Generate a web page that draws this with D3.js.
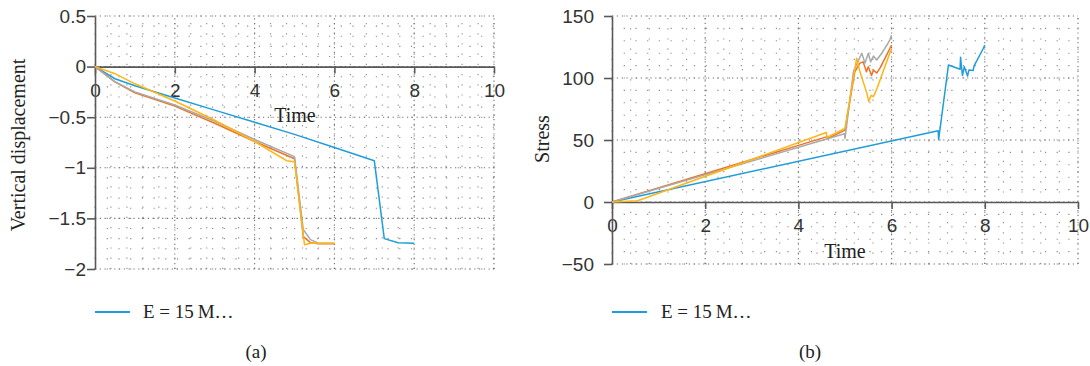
<!DOCTYPE html>
<html>
<head>
<meta charset="utf-8">
<script src="https://cdn.jsdelivr.net/npm/d3@7"></script>
<style>
  body { margin: 0; background: #fff; }
  svg { display: block; font-family: "Liberation Serif", "DejaVu Serif", serif; }
  .tick text { fill: #333; }
</style>
</head>
<body>
<div id="chart-container"></div>
<script>
// ---- data ----
var xTicks = [0, 2, 4, 6, 8, 10];
var yTicksA = [0.5, 0, -0.5, -1, -1.5, -2];
var yTicksB = [150, 100, 50, 0, -50];
var legendLabel = 'E = 15\u2009M\u2026';

// (a) vertical displacement
var blueA_t = [0, 0.5, 1, 2, 3, 4, 5, 6, 7, 7.25, 7.6, 8];
var blueA_v = [0, -0.12, -0.19, -0.31, -0.43, -0.55, -0.67, -0.8, -0.93, -1.7, -1.74, -1.745];
var orangeA_t = [0, 0.5, 1, 2, 3, 4, 5, 5.22, 5.4, 5.6, 6];
var orangeA_v = [0, -0.15, -0.26, -0.39, -0.56, -0.74, -0.91, -1.68, -1.74, -1.75, -1.75];
var grayA_t = [0, 0.5, 1, 2, 3, 4, 5, 5.22, 5.4, 5.6, 6];
var grayA_v = [0, -0.15, -0.25, -0.38, -0.54, -0.72, -0.89, -1.61, -1.71, -1.745, -1.745];
var goldA_t = [0, 0.5, 1, 2, 3, 4, 4.8, 5, 5.25, 5.4, 5.6, 6];
var goldA_v = [0, -0.07, -0.17, -0.34, -0.53, -0.74, -0.93, -0.94, -1.76, -1.745, -1.745, -1.745];

// (b) stress
var blueB_t = [0, 7, 7.01, 7.22, 7.47, 7.48, 7.52, 7.56, 7.63, 7.66, 7.75, 7.77, 7.97, 8];
var blueB_v = [0, 57.5, 50.5, 110.5, 107, 116.7, 102, 109, 101.6, 106.5, 106, 109.7, 124, 126.6];
var orangeB_t = [0, 4.6, 4.62, 5, 5.21, 5.32, 5.39, 5.46, 5.5, 5.57, 5.61, 5.68, 5.75, 5.86, 6];
var orangeB_v = [0, 52.5, 51, 58, 105, 112, 113, 105, 109, 102, 106.5, 104, 108, 116, 126.6];
var grayB_t = [0, 4.99, 5, 5.18, 5.36, 5.43, 5.5, 5.55, 5.61, 5.68, 5.79, 5.9, 5.96, 6];
var grayB_v = [0, 55, 51.3, 105, 120, 112, 120, 113, 117.7, 114.5, 120, 126.6, 130.6, 134.7];
var goldB_t = [0, 0.55, 4.6, 4.61, 5, 5.25, 5.31, 5.47, 5.51, 5.56, 5.61, 5.68, 5.97, 6];
var goldB_v = [0, 1, 56, 52, 59.4, 116, 106.5, 87.6, 81, 86, 85, 91, 121, 123];

var colors = { blue: '#1f9ddb', orange: '#ee7326', gray: '#a9a9a9', gold: '#fdb515' };

function translateString(x, y) {
  return 'translate(' + x + ', ' + y + ')';
}
function zip(t, v) {
  return t.map(function(d, i) { return [d, v[i]]; });
}

var svg = d3.select('#chart-container').append('svg')
  .attr('width', 1090)
  .attr('height', 366);

function drawPanel(cfg) {
  var x = d3.scaleLinear().domain([0, 10]).range([cfg.left, cfg.right]);
  var y = d3.scaleLinear().domain(cfg.yDomain).range([cfg.bottom, cfg.top]);
  var g = svg.append('g');

  // minor dotted grid
  var xMinor = d3.range(0, 10.001, 0.4);
  var yMinor = d3.range(cfg.yDomain[0], cfg.yDomain[1] + cfg.yMinor / 2, cfg.yMinor);
  g.selectAll('.hminor').data(yMinor).enter().append('line')
    .attr('x1', x(0)).attr('x2', x(10))
    .attr('y1', function(d) { return y(d); }).attr('y2', function(d) { return y(d); })
    .attr('stroke', '#8a8a8a').attr('stroke-width', 1.1)
    .attr('stroke-dasharray', '1.2,10.5');
  g.selectAll('.vminor').data(xMinor).enter().append('line')
    .attr('y1', y(cfg.yDomain[0])).attr('y2', y(cfg.yDomain[1]))
    .attr('x1', function(d) { return x(d); }).attr('x2', function(d) { return x(d); })
    .attr('stroke', '#8a8a8a').attr('stroke-width', 1.1)
    .attr('stroke-dasharray', '1.2,9');
  // major dotted grid
  g.selectAll('.hmajor').data(cfg.yTicks).enter().append('line')
    .attr('x1', x(0)).attr('x2', x(10))
    .attr('y1', function(d) { return y(d); }).attr('y2', function(d) { return y(d); })
    .attr('stroke', '#6f6f6f').attr('stroke-width', 1.1)
    .attr('stroke-dasharray', '1.2,3.6');
  g.selectAll('.vmajor').data(xTicks.slice(1)).enter().append('line')
    .attr('y1', y(cfg.yDomain[0])).attr('y2', y(cfg.yDomain[1]))
    .attr('x1', function(d) { return x(d); }).attr('x2', function(d) { return x(d); })
    .attr('stroke', '#6f6f6f').attr('stroke-width', 1.1)
    .attr('stroke-dasharray', '1.2,3.6');

  // axes
  var xAxis = d3.axisBottom(x).tickValues(xTicks).tickSize(7).tickSizeOuter(0)
    .tickFormat(d3.format('~g'));
  var xg = g.append('g').attr('transform', translateString(0, y(0))).call(xAxis);
  xg.selectAll('text').attr('font-size', 19).attr('dy', null).attr('y', 30);

  var yAxis = d3.axisLeft(y).tickValues(cfg.yTicks).tickSize(8).tickSizeOuter(0)
    .tickFormat(d3.format('~g'));
  var yg = g.append('g').attr('transform', translateString(x(0), 0)).call(yAxis);
  yg.selectAll('text').attr('font-size', 19).attr('x', -cfg.yLabelGap);

  g.selectAll('.domain, .tick line').attr('stroke', '#595959').attr('stroke-width', 1.6);

  // series
  var line = d3.line().x(function(d) { return x(d[0]); }).y(function(d) { return y(d[1]); });
  cfg.series.forEach(function(s) {
    g.append('path')
      .datum(zip(s.t, s.v))
      .attr('d', line)
      .attr('fill', 'none')
      .attr('stroke', s.color)
      .attr('stroke-width', 1.5)
      .attr('stroke-linejoin', 'round');
  });

  // titles
  g.append('text')
    .attr('x', cfg.timeX).attr('y', cfg.timeY)
    .attr('text-anchor', 'middle').attr('font-size', 20).attr('fill', '#222')
    .text('Time');
  g.append('text')
    .attr('transform', translateString(cfg.yTitleX, cfg.yTitleY) + ' rotate(-90)')
    .attr('text-anchor', 'middle').attr('font-size', 20).attr('fill', '#222')
    .text(cfg.yTitle);

  // legend
  g.append('line')
    .attr('x1', x(0)).attr('x2', x(0) + 35)
    .attr('y1', 312).attr('y2', 312)
    .attr('stroke', colors.blue).attr('stroke-width', 2);
  g.append('text')
    .attr('x', x(0) + cfg.legendGap).attr('y', 318)
    .attr('font-size', 19).attr('fill', '#222')
    .text(legendLabel);

  // caption
  g.append('text')
    .attr('x', cfg.capX).attr('y', 358)
    .attr('text-anchor', 'middle').attr('font-size', 19).attr('fill', '#222')
    .text(cfg.caption);
}

drawPanel({
  left: 95, right: 494, top: 16, bottom: 269,
  yDomain: [-2, 0.5], yTicks: yTicksA, yMinor: 0.1, yLabelGap: 9,
  yTitle: 'Vertical displacement', yTitleX: 25, yTitleY: 145,
  timeX: 295, timeY: 122,
  legendGap: 48, capX: 256, caption: '(a)',
  series: [
    { t: blueA_t, v: blueA_v, color: colors.blue },
    { t: orangeA_t, v: orangeA_v, color: colors.orange },
    { t: grayA_t, v: grayA_v, color: colors.gray },
    { t: goldA_t, v: goldA_v, color: colors.gold }
  ]
});

drawPanel({
  left: 612, right: 1078, top: 16, bottom: 264,
  yDomain: [-50, 150], yTicks: yTicksB, yMinor: 10, yLabelGap: 18,
  yTitle: 'Stress', yTitleX: 549, yTitleY: 139,
  timeX: 845, timeY: 258,
  legendGap: 49, capX: 810, caption: '(b)',
  series: [
    { t: blueB_t, v: blueB_v, color: colors.blue },
    { t: orangeB_t, v: orangeB_v, color: colors.orange },
    { t: grayB_t, v: grayB_v, color: colors.gray },
    { t: goldB_t, v: goldB_v, color: colors.gold }
  ]
});
</script>
</body>
</html>
